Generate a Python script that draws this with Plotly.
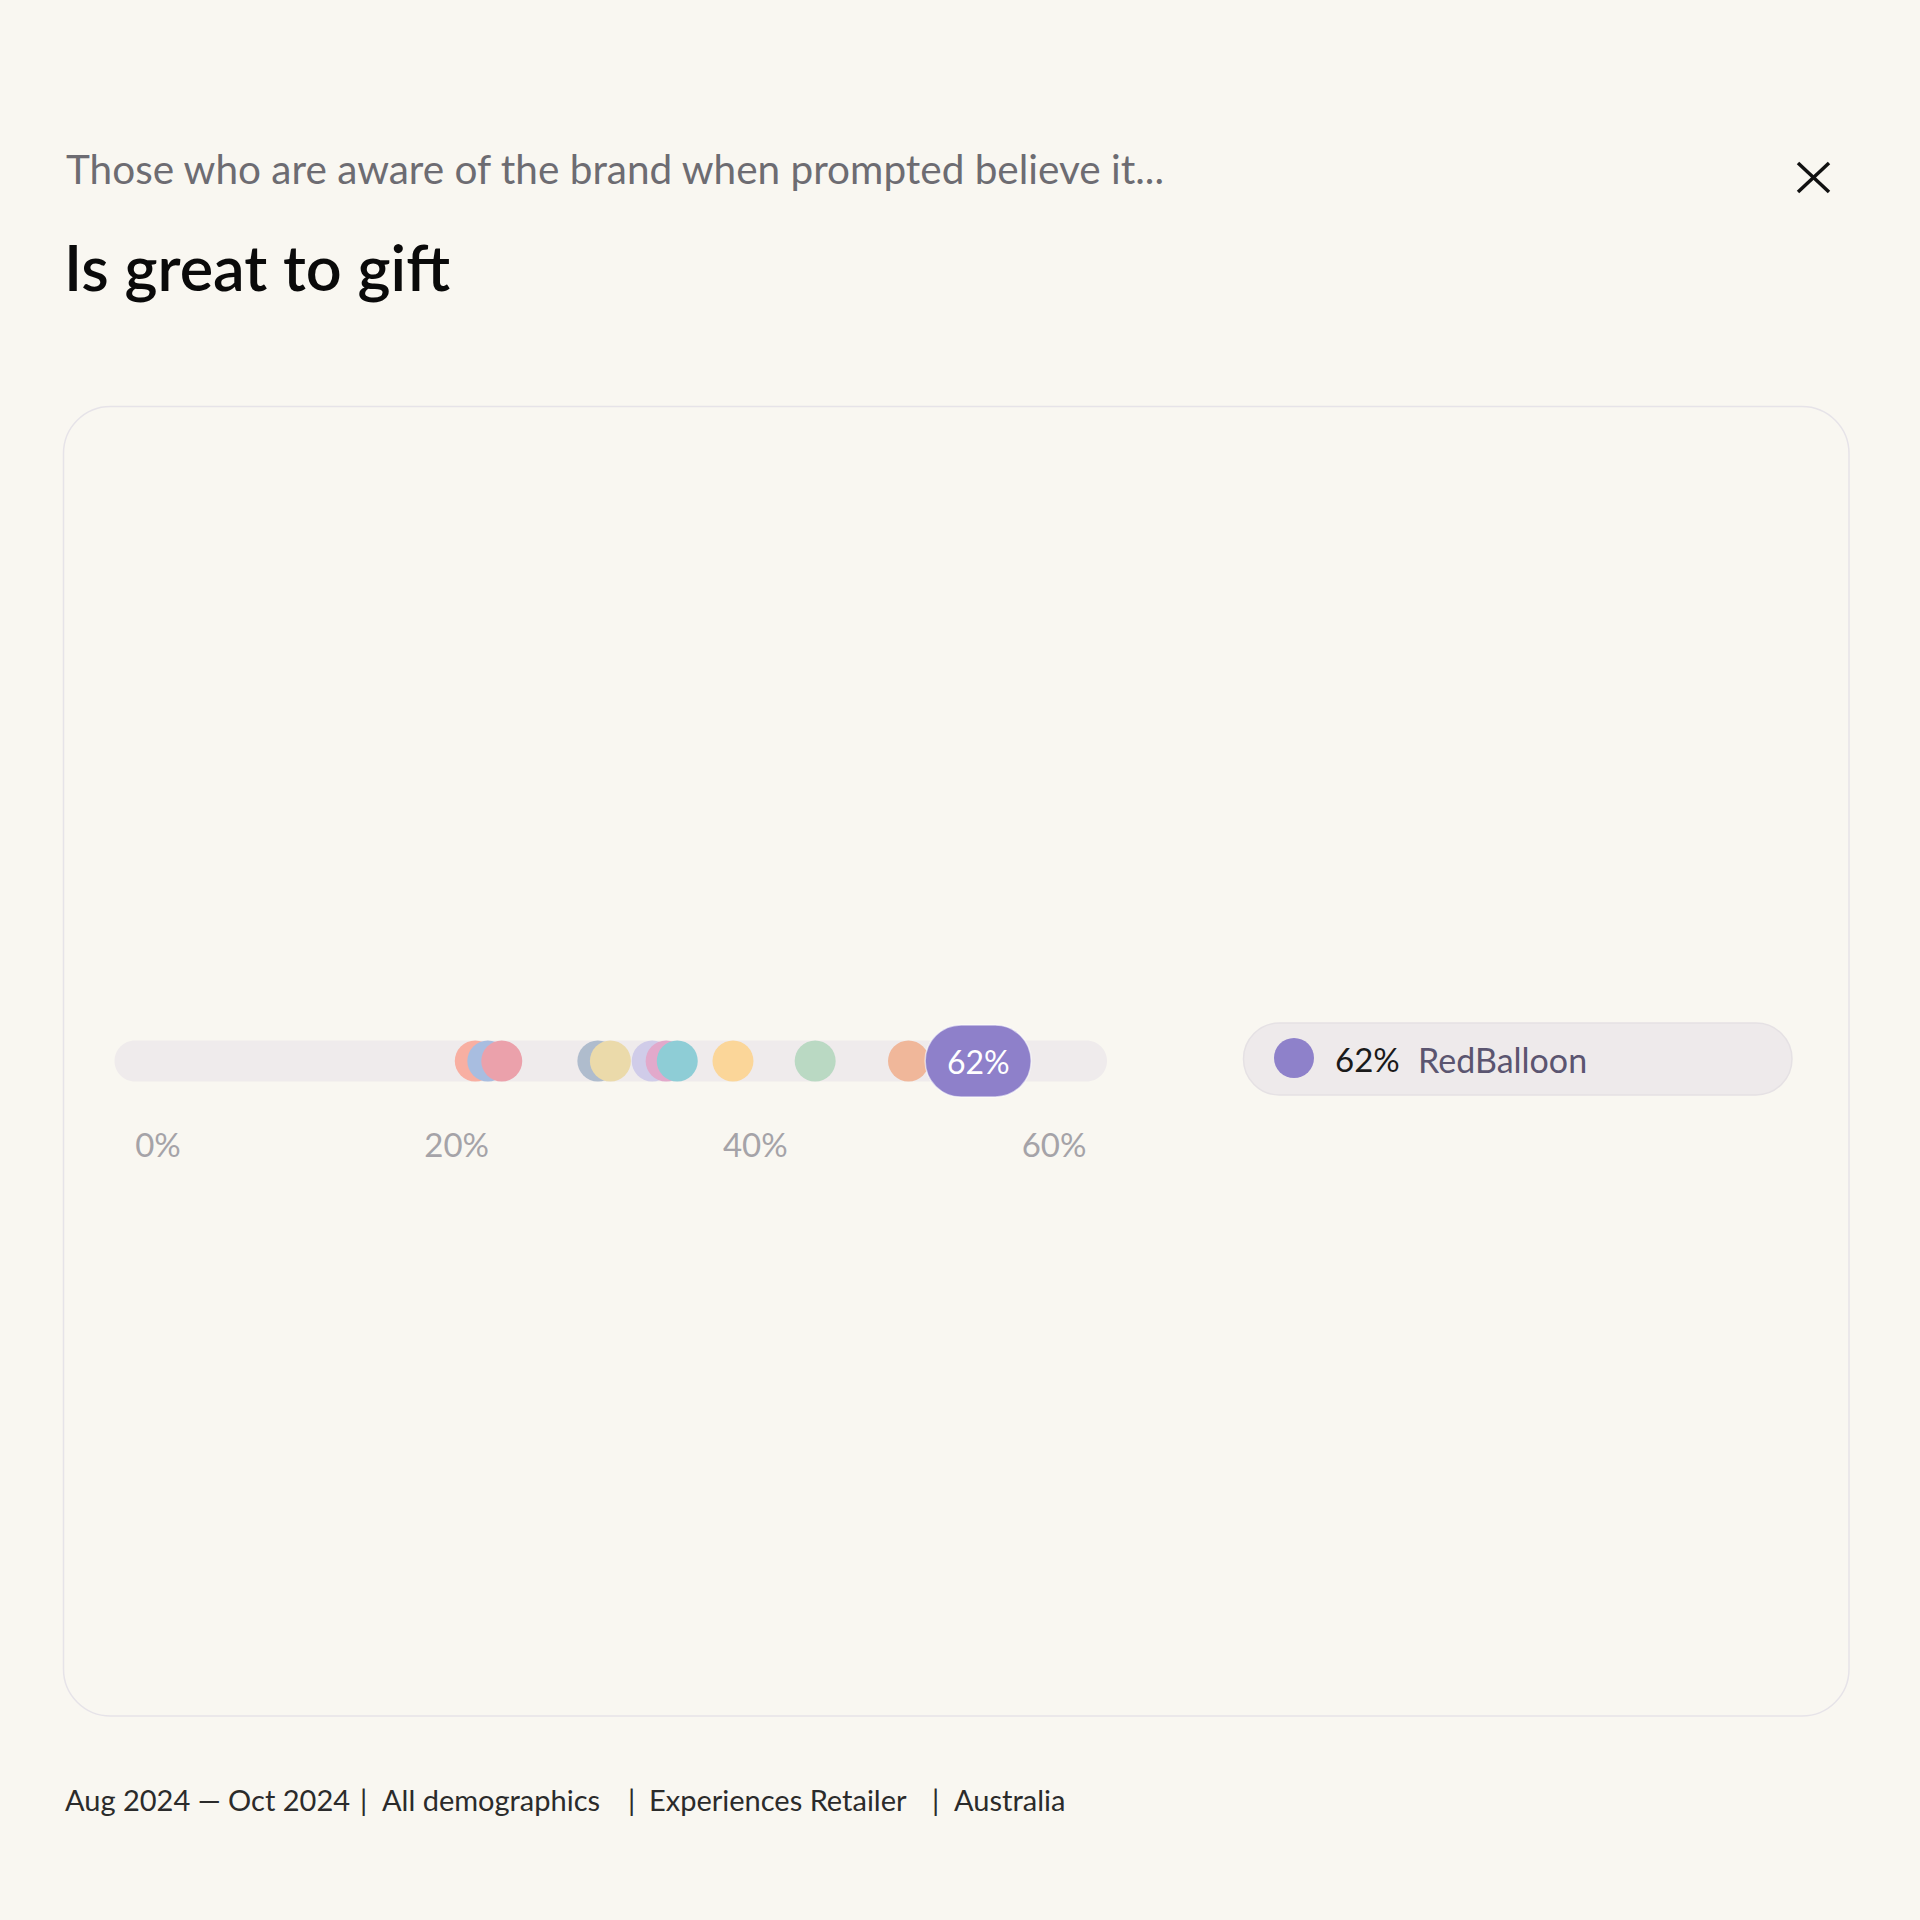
import plotly.graph_objects as go

# ---------------- data ----------------
brands = ["Brand A", "Brand B", "Brand C", "Brand D", "Brand E", "Brand F",
          "Brand G", "Brand H", "Brand I", "Brand J", "Brand K", "RedBalloon"]
values = [25.9, 26.8, 27.8, 34.7, 35.6, 38.6, 39.6, 40.4, 44.4, 50.3, 57.0, 62.0]
colors = ["#F8AFA2", "#A8BDE0", "#EBA1AB", "#AFBCCD", "#EBDAAA", "#D0CCE9",
          "#E2A9CB", "#8ECDD6", "#FBD699", "#BAD9C3", "#F0B79A", "#8E81CA"]
highlight = "RedBalloon"
tick_values = [0, 20, 40, 60]
tick_labels = ["0%", "20%", "40%", "60%"]

subtitle = "Those who are aware of the brand when prompted believe it..."
title = "Is great to gift"
footer_parts = ["Aug 2024 — Oct 2024", "|", "All demographics", "|",
                "Experiences Retailer", "|", "Australia"]

# ---------------- layout helpers ----------------
W = H = 1920
BG = "#F9F7F1"
FONT = "Lato"
K = 0.5523


def px(x):
    return x / W


def py(y):
    return 1 - y / H


def rrect(x0, y0, x1, y1, r):
    """rounded rectangle in pixel coords (top-left origin) -> paper path"""
    k = r * K
    pts = [
        ("M", [(x0 + r, y0)]),
        ("L", [(x1 - r, y0)]),
        ("C", [(x1 - r + k, y0), (x1, y0 + r - k), (x1, y0 + r)]),
        ("L", [(x1, y1 - r)]),
        ("C", [(x1, y1 - r + k), (x1 - r + k, y1), (x1 - r, y1)]),
        ("L", [(x0 + r, y1)]),
        ("C", [(x0 + r - k, y1), (x0, y1 - r + k), (x0, y1 - r)]),
        ("L", [(x0, y0 + r)]),
        ("C", [(x0, y0 + r - k), (x0 + r - k, y0), (x0 + r, y0)]),
    ]
    s = ""
    for cmd, ps in pts:
        s += cmd + " " + " ".join(f"{px(a):.6f},{py(b):.6f}" for a, b in ps) + " "
    return s + "Z"


def pill_pixels(w, h):
    r = h / 2
    a = w / 2 - r
    k = r * K
    return (f"M {-a},{-r} L {a},{-r} C {a + k},{-r} {w/2},{-k} {w/2},0 "
            f"C {w/2},{k} {a + k},{r} {a},{r} L {-a},{r} "
            f"C {-a - k},{r} {-w/2},{k} {-w/2},0 C {-w/2},{-k} {-a - k},{-r} {-a},{-r} Z")


TRACK_L, TRACK_R, TRACK_Y, TRACK_H = 114.5, 1107, 1061, 41
hi_idx = brands.index(highlight)
hi_val = values[hi_idx]
hi_col = colors[hi_idx]

fig = go.Figure()

# dots
fig.add_trace(go.Scatter(
    x=values, y=[0] * len(values), mode="markers",
    marker=dict(size=41, color=colors, line=dict(width=0), opacity=1),
    text=brands, hovertemplate="%{text}: %{x}%<extra></extra>",
    showlegend=False, xaxis="x", yaxis="y"))

# axis carrier for tick labels
fig.add_trace(go.Scatter(x=tick_values, y=[None] * len(tick_values), mode="markers",
                         showlegend=False, hoverinfo="skip", xaxis="x2", yaxis="y2"))

shapes = []
# card
shapes.append(dict(type="path", xref="paper", yref="paper", layer="below",
                   path=rrect(63.5, 406.5, 1849, 1716, 47),
                   line=dict(color="#E6E3E8", width=1.5), fillcolor=BG))
# track
shapes.append(dict(type="path", xref="paper", yref="paper", layer="below",
                   path=rrect(TRACK_L, TRACK_Y - TRACK_H / 2, TRACK_R, TRACK_Y + TRACK_H / 2, TRACK_H / 2),
                   line=dict(width=0), fillcolor="#EFEBEC"))
# highlight bubble
shapes.append(dict(type="path", xref="x", yref="y", xsizemode="pixel", ysizemode="pixel",
                   xanchor=hi_val, yanchor=0, layer="above",
                   path=pill_pixels(106, 72),
                   line=dict(color="rgba(255,255,255,0.6)", width=1.5), fillcolor="#8E80CA"))
# legend pill
shapes.append(dict(type="path", xref="paper", yref="paper", layer="below",
                   path=rrect(1243.5, 1023, 1792, 1095, 36),
                   line=dict(color="#E5E1E4", width=1.5), fillcolor="#EEEAEB"))
shapes.append(dict(type="circle", xref="paper", yref="paper",
                   x0=px(1274), x1=px(1314), y0=py(1078), y1=py(1038),
                   line=dict(width=0), fillcolor=hi_col))
# close icon
shapes.append(dict(type="line", xref="paper", yref="paper",
                   x0=px(1798), y0=py(163), x1=px(1829), y1=py(192),
                   line=dict(color="#111111", width=3.5)))
shapes.append(dict(type="line", xref="paper", yref="paper",
                   x0=px(1798), y0=py(192), x1=px(1829), y1=py(163),
                   line=dict(color="#111111", width=3.5)))

ann = []
ann.append(dict(text=f"{hi_val:.0f}%", x=hi_val, y=0, xref="x", yref="y", showarrow=False,
                font=dict(family=FONT, size=32, color="white"), xanchor="center", yanchor="middle"))
ann.append(dict(text=subtitle, x=px(64), y=py(168), xref="paper", yref="paper", showarrow=False,
                xanchor="left", yanchor="middle", font=dict(family=FONT, size=40.5, color="#6D6C72")))
ann.append(dict(text=title, x=px(62), y=py(266), xref="paper", yref="paper", showarrow=False,
                xanchor="left", yanchor="middle", font=dict(family=FONT, size=63, color="#0A0A0A", weight=600)))
ann.append(dict(text=f"{hi_val:.0f}%", x=px(1333), y=py(1059), xref="paper", yref="paper", showarrow=False,
                xanchor="left", yanchor="middle", font=dict(family=FONT, size=33, color="#1A1A1A")))
ann.append(dict(text=highlight, x=px(1416), y=py(1059), xref="paper", yref="paper", showarrow=False,
                xanchor="left", yanchor="middle", font=dict(family=FONT, size=34, color="#5B5570")))
footer_x = [63, 358, 380, 626, 647, 930, 952]
for t, fx in zip(footer_parts, footer_x):
    ann.append(dict(text=t, x=px(fx), y=py(1799), xref="paper", yref="paper", showarrow=False,
                    xanchor="left", yanchor="middle", font=dict(family=FONT, size=29, color="#2B2B2B")))

fig.update_layout(
    template="none",
    width=W, height=H, margin=dict(l=0, r=0, t=0, b=0, pad=0, autoexpand=False),
    paper_bgcolor=BG, plot_bgcolor="rgba(0,0,0,0)",
    xaxis=dict(domain=[px(TRACK_L), px(TRACK_R)], range=[0, 71.25], visible=False,
               fixedrange=True, automargin=False),
    yaxis=dict(domain=[py(1161), py(961)], range=[-1, 1], visible=False,
               fixedrange=True, automargin=False),
    xaxis2=dict(domain=[px(158), px(1054)], range=[0, 60], anchor="y2",
                tickvals=tick_values, ticktext=tick_labels, ticks="", showline=False,
                showgrid=False, zeroline=False, automargin=False,
                tickfont=dict(family=FONT, size=33, color="#A5A3A8")),
    yaxis2=dict(domain=[py(1123), py(1117)], visible=False, anchor="x2", automargin=False),
    shapes=shapes, annotations=ann, showlegend=False,
)

fig.write_html("out.html")
